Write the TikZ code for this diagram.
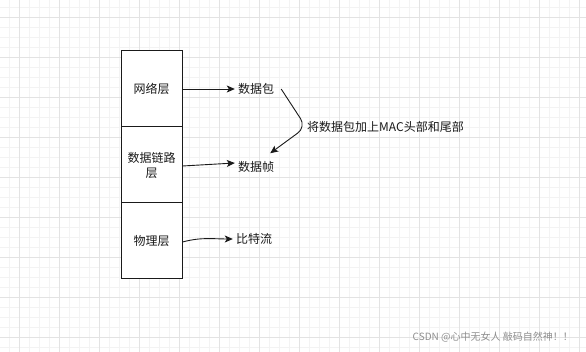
\documentclass[tikz,border=0pt]{standalone}
\usepackage{fontspec}
\newfontfamily\cjk{Noto Sans CJK SC}
\usetikzlibrary{arrows.meta, positioning}
\definecolor{GridMinor}{HTML}{F3F3F3}
\definecolor{GridMajor}{HTML}{E3E3E3}
\definecolor{Ink}{HTML}{1A1A1A}
\definecolor{MarkGray}{HTML}{8E8E8E}
\tikzset{
  layerbox/.style={draw=Ink, line width=1pt, fill=white, align=center,
                   minimum width=61pt, minimum height=76pt, inner sep=0pt,
                   font=\cjk\fontsize{12}{15}\selectfont, text=Ink},
  pdu/.style={font=\cjk\fontsize{12}{15}\selectfont, text=Ink, inner sep=3pt},
  flowarrow/.style={-{Stealth[length=8pt, width=7pt, inset=2pt]},
                    line width=0.9pt, draw=Ink},
  notelab/.style={font=\cjk\fontsize{12}{15}\selectfont, text=Ink,
                  anchor=west, inner sep=1pt},
  marklab/.style={font=\cjk\fontsize{10}{12}\selectfont, text=MarkGray,
                  anchor=east, inner sep=0pt},
}
\begin{document}
\begin{tikzpicture}[x=1pt, y=-1pt]
  \useasboundingbox (0,0) rectangle (586,352);
  \fill[white] (0,0) rectangle (586,352);

  % background grid, 10px minor / 40px major
  \foreach \gx in {9,19,...,579}
    \draw[GridMinor, line width=0.8pt] (\gx,0) -- (\gx,352);
  \foreach \gy in {7,17,...,347}
    \draw[GridMinor, line width=0.8pt] (0,\gy) -- (586,\gy);
  \foreach \gx in {19,59,...,579}
    \draw[GridMajor, line width=0.8pt] (\gx,0) -- (\gx,352);
  \foreach \gy in {17,57,...,337}
    \draw[GridMajor, line width=0.8pt] (0,\gy) -- (586,\gy);

  % the three layers
  \node[layerbox] (net) at (151.5, 89) {网络层};
  \node[layerbox] (link) at (151.5, 165) {数据链路\\层};
  \node[layerbox] (phy) at (151.5, 241) {物理层};

  % what each layer carries
  \node[pdu] (pkt) at (256, 89) {数据包};
  \node[pdu] (frm) at (256, 167) {数据帧};
  \node[pdu] (bits) at (254, 239) {比特流};

  \draw[flowarrow] (net.east) -- (pkt.west);
  \draw[flowarrow] ([yshift=-1pt]link.east) -- ([yshift=4pt]frm.west);
  \draw[flowarrow] ([yshift=-1pt]phy.east) to[out=15, in=180] (bits.west);

  % packet -> frame, bent edge with its label at the bend
  \coordinate (bend) at (306, 127);
  \draw[flowarrow, rounded corners=10pt]
    ([xshift=4pt]pkt.east) -- (bend) -- ([xshift=-7pt, yshift=5pt]frm.north east);
  \node[notelab] (note) at (bend) {将数据包加上MAC头部和尾部};

  \node[marklab] (mark) at (573, 337) {CSDN @心中无女人 敲码自然神！！};
\end{tikzpicture}
\end{document}
